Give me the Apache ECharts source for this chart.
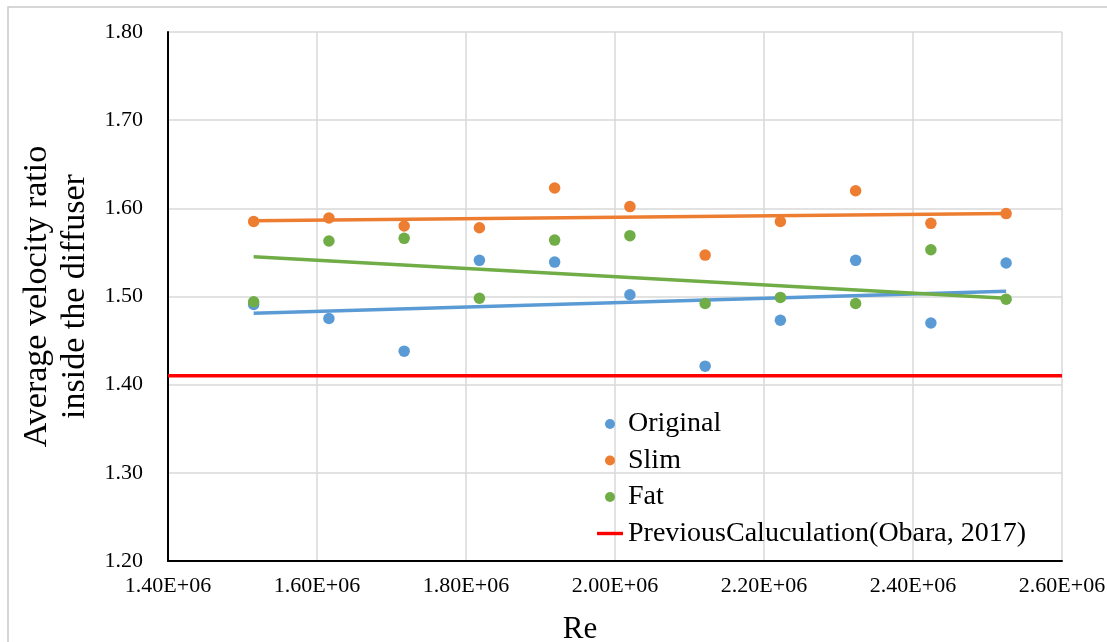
<!DOCTYPE html>
<html>
<head>
<meta charset="utf-8">
<script src="https://cdn.jsdelivr.net/npm/echarts@6/dist/echarts.min.js"></script>
<style>
  html, body { margin: 0; padding: 0; background: #fff; }
  #chart { width: 1107px; height: 642px; }
</style>
</head>
<body>
<div id="chart"></div>
<script>
// Reynolds numbers of the simulated cases
const reynolds = [1.515e6, 1.616e6, 1.717e6, 1.818e6, 1.919e6, 2.020e6, 2.121e6, 2.222e6, 2.323e6, 2.424e6, 2.525e6];

// Average velocity ratio inside the diffuser, per shape
const originalRatio = [1.491, 1.475, 1.438, 1.541, 1.539, 1.502, 1.421, 1.473, 1.541, 1.470, 1.538];
const slimRatio     = [1.585, 1.589, 1.580, 1.578, 1.623, 1.602, 1.547, 1.585, 1.620, 1.583, 1.594];
const fatRatio      = [1.494, 1.563, 1.566, 1.498, 1.564, 1.569, 1.492, 1.499, 1.492, 1.553, 1.497];

// Linear trendline values at the first and last Re
const originalTrend = [1.481, 1.506];
const slimTrend     = [1.586, 1.594];
const fatTrend      = [1.545, 1.498];

// Earlier reference value
const previousRatio = 1.41;

const yTicks = { min: 1.2, max: 1.8, interval: 0.1 };
const xTicks = { min: 1.4e6, max: 2.6e6, interval: 0.2e6 };

const colors = { Original: '#5b9bd5', Slim: '#ed7d31', Fat: '#70ad47', prev: '#ff0000' };

function pairs(xs, ys) { return xs.map((x, i) => [x, ys[i]]); }
function trendPoints(ends) { return [[reynolds[0], ends[0]], [reynolds[reynolds.length - 1], ends[1]]]; }

const serif = '"Liberation Serif", "DejaVu Serif", serif';

function trendSeries(name, ends, color) {
  return {
    name: name + ' trend', type: 'line', data: trendPoints(ends),
    symbol: 'none', silent: true, z: 2,
    lineStyle: { color: color, width: 3.5 }
  };
}
function scatterSeries(name, ys, color) {
  return {
    name: name, type: 'scatter', data: pairs(reynolds, ys),
    symbolSize: 11.5, z: 3,
    itemStyle: { color: color, opacity: 1 }
  };
}

const chart = echarts.init(document.getElementById('chart'), null, { renderer: 'canvas' });
chart.setOption({
  animation: false,
  backgroundColor: '#ffffff',
  textStyle: { fontFamily: serif },
  graphic: [
    { type: 'polyline', shape: { points: [[8, 642], [8, 7], [1107, 7]] },
      style: { stroke: '#c9c9c9', lineWidth: 1.5, fill: null } }
  ],
  grid: { left: 168, right: 45, top: 32, bottom: 81, outerBoundsMode: 'none', containLabel: false },
  legend: {
    orient: 'vertical', left: 592, top: 405,
    itemWidth: 26, itemHeight: 10, itemGap: 8.5,
    symbolKeepAspect: true,
    textStyle: { fontFamily: serif, fontSize: 28, color: '#000', lineHeight: 28 },
    data: [
      { name: 'Original', icon: 'circle' },
      { name: 'Slim', icon: 'circle' },
      { name: 'Fat', icon: 'circle' },
      { name: 'PreviousCaluculation(Obara, 2017)', icon: 'path://M0,0H26V3.4H0Z', itemStyle: { color: colors.prev } }
    ]
  },
  xAxis: {
    type: 'value', min: xTicks.min, max: xTicks.max, interval: xTicks.interval,
    name: 'Re', nameLocation: 'middle', nameGap: 53,
    nameTextStyle: { fontFamily: serif, fontSize: 31, color: '#000', padding: [0, 70, 0, 0] },
    axisLine: { show: true, onZero: false, lineStyle: { color: '#000', width: 2 } },
    axisTick: { show: false },
    axisLabel: { fontFamily: serif, fontSize: 22, color: '#000', margin: 14,
      formatter: v => (v / 1e6).toFixed(2) + 'E+06' },
    splitLine: { show: true, lineStyle: { color: '#d9d9d9', width: 1.5 } }
  },
  yAxis: {
    type: 'value', min: yTicks.min, max: yTicks.max, interval: yTicks.interval,
    name: 'Average velocity ratio\ninside the diffuser', nameLocation: 'middle', nameGap: 66,
    nameTextStyle: { fontFamily: serif, fontSize: 34, color: '#000', lineHeight: 38 },
    axisLine: { show: true, onZero: false, lineStyle: { color: '#000', width: 2 } },
    axisTick: { show: false },
    axisLabel: { fontFamily: serif, fontSize: 22, color: '#000', margin: 25,
      formatter: v => v.toFixed(2) },
    splitLine: { show: true, lineStyle: { color: '#d9d9d9', width: 1.5 } }
  },
  series: [
    trendSeries('Original', originalTrend, colors.Original),
    trendSeries('Slim', slimTrend, colors.Slim),
    trendSeries('Fat', fatTrend, colors.Fat),
    {
      name: 'PreviousCaluculation(Obara, 2017)', type: 'line',
      data: [[xTicks.min, previousRatio], [xTicks.max, previousRatio]],
      symbol: 'none', z: 2,
      lineStyle: { color: colors.prev, width: 3.5 },
      itemStyle: { color: colors.prev }
    },
    scatterSeries('Original', originalRatio, colors.Original),
    scatterSeries('Slim', slimRatio, colors.Slim),
    scatterSeries('Fat', fatRatio, colors.Fat)
  ]
});
</script>
</body>
</html>
